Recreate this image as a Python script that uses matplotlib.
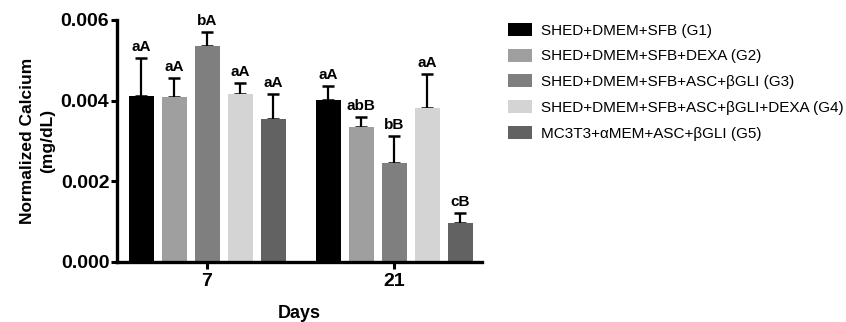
import numpy as np
import matplotlib
matplotlib.use("Agg")
import matplotlib.pyplot as plt

plt.rcParams['font.family'] = ['Liberation Sans', 'DejaVu Sans']

# data
days = ['7', '21']
groups = ['SHED+DMEM+SFB (G1)',
          'SHED+DMEM+SFB+DEXA (G2)',
          'SHED+DMEM+SFB+ASC+βGLI (G3)',
          'SHED+DMEM+SFB+ASC+βGLI+DEXA (G4)',
          'MC3T3+αMEM+ASC+βGLI (G5)']
mean_d7 = [0.00412, 0.00410, 0.00536, 0.00416, 0.00355]
mean_d21 = [0.00402, 0.00335, 0.00245, 0.00381, 0.00097]
sd_d7 = [0.00093, 0.00045, 0.00034, 0.00027, 0.00061]
sd_d21 = [0.00034, 0.00025, 0.00068, 0.00084, 0.00024]
letters_d7 = ['aA', 'aA', 'bA', 'aA', 'aA']
letters_d21 = ['aA', 'abB', 'bB', 'aA', 'cB']
colors = ['#000000', '#9f9f9f', '#7f7f7f', '#d4d4d4', '#626262']

means = np.array([mean_d7, mean_d21])
sds = np.array([sd_d7, sd_d21])
letters = [letters_d7, letters_d21]

fig = plt.figure(figsize=(8.46, 3.22), dpi=100)
ax = fig.add_axes([117/846, 1-262/322, (482-117)/846, (262-20)/322])

x = np.arange(len(days))
step = 33/187
width = 25/187
for i, g in enumerate(groups):
    pos = x + (i - 2) * step
    ax.bar(pos, means[:, i], width, color=colors[i], label=g, zorder=2)
    ax.errorbar(pos, means[:, i], yerr=[np.zeros(2), sds[:, i]], fmt='none',
                ecolor='black', elinewidth=1.6, capsize=4.3, capthick=1.8, zorder=1)
    for j in range(len(days)):
        ax.annotate(letters[j][i], (pos[j], means[j, i] + sds[j, i]),
                    xytext=(0, 3), textcoords='offset points',
                    ha='center', va='bottom', fontsize=11, fontweight='bold')

ax.set_xlim((117-207)/187, (482-207)/187)
ax.set_ylim(0, 0.006)
ax.set_yticks([0, 0.002, 0.004, 0.006])
ax.set_yticklabels(['0.000', '0.002', '0.004', '0.006'])
ax.set_xticks(x)
ax.set_xticklabels(days)
for lab in ax.get_xticklabels() + ax.get_yticklabels():
    lab.set_fontweight('bold')
    lab.set_fontsize(14)
ax.tick_params(axis='y', width=2.2, length=4, pad=1.5)
ax.tick_params(axis='x', width=2.2, length=5, pad=3)
for s in ['top', 'right']:
    ax.spines[s].set_visible(False)
for s in ['left', 'bottom']:
    ax.spines[s].set_linewidth(2.4)

ax.set_ylabel('Normalized Calcium\n(mg/dL)', fontsize=12.5, fontweight='bold',
              linespacing=1.45)
ax.yaxis.set_label_coords((55-117)/365, 0.5)
ax.set_xlabel('Days', fontsize=13, fontweight='bold', labelpad=11)

fig.legend(loc='upper left', bbox_to_anchor=(508/846, 1-23/322), frameon=False,
           fontsize=11, handlelength=1.57, handleheight=0.92, handletextpad=0.6,
           labelspacing=0.72, borderpad=0, borderaxespad=0)

fig.savefig('out.png', dpi=100)
